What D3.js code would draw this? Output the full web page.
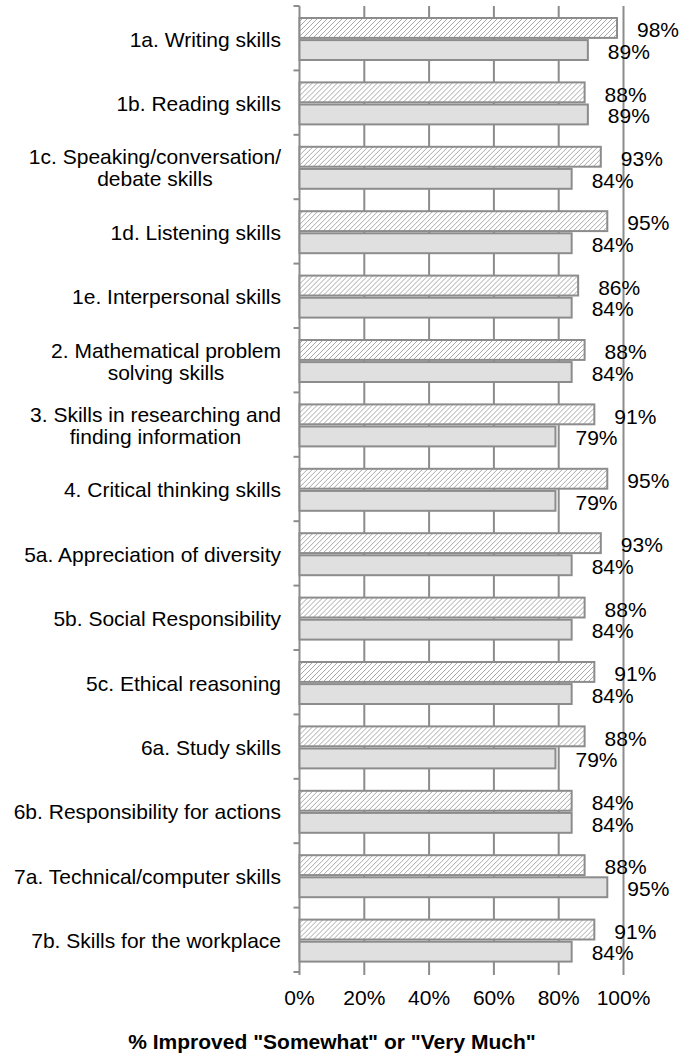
<!DOCTYPE html>
<html>
<head>
<meta charset="utf-8">
<script src="https://cdn.jsdelivr.net/npm/d3@7"></script>
<style>
  body { margin: 0; background: #fff; }
  svg text { font-family: "Liberation Sans", Arial, Helvetica, sans-serif; fill: #000; }
</style>
</head>
<body>
<svg id="chart" width="693" height="1055"></svg>
<script>
// categories (label lines) and the two series
var categories = [
  ["1a. Writing skills"],
  ["1b. Reading skills"],
  ["1c. Speaking/conversation/", "debate skills"],
  ["1d. Listening skills"],
  ["1e. Interpersonal skills"],
  ["2. Mathematical problem", "solving skills"],
  ["3. Skills in researching and", "finding information"],
  ["4. Critical thinking skills"],
  ["5a. Appreciation of diversity"],
  ["5b. Social Responsibility"],
  ["5c. Ethical reasoning"],
  ["6a. Study skills"],
  ["6b. Responsibility for actions"],
  ["7a. Technical/computer skills"],
  ["7b. Skills for the workplace"]
];
var hatchedVals = [98, 88, 93, 95, 86, 88, 91, 95, 93, 88, 91, 88, 84, 88, 91];
var solidVals   = [89, 89, 84, 84, 84, 84, 79, 79, 84, 84, 84, 79, 84, 95, 84];
var xTicks = [0, 20, 40, 60, 80, 100];
var xTitle = '% Improved "Somewhat" or "Very Much"';

var svg = d3.select("#chart");
var gray = "#8c8c8c";
var fs = 21;

var keys = categories.map(function(c, i) { return "c" + i; });
var x = d3.scaleLinear().domain([0, 100]).range([299.5, 623.5]);
var y = d3.scaleBand().domain(keys).range([6, 972]);
var inner = d3.scaleBand().domain(["h", "s"]).range([12, 54]).paddingInner(0.1);

// hatch pattern
var defs = svg.append("defs");
var pat = defs.append("pattern")
  .attr("id", "hatch")
  .attr("patternUnits", "userSpaceOnUse")
  .attr("width", 5).attr("height", 5);
pat.append("rect").attr("width", 5).attr("height", 5).attr("fill", "#fff");
pat.append("path")
  .attr("d", "M-1,1 l2,-2 M0,5 l5,-5 M4,6 l2,-2")
  .attr("stroke", "#a8a8a8").attr("stroke-width", 1);

// gridlines
svg.append("g").selectAll("line")
  .data(xTicks.filter(function(t) { return t > 0; }))
  .enter().append("line")
  .attr("x1", function(d) { return x(d); })
  .attr("x2", function(d) { return x(d); })
  .attr("y1", 6).attr("y2", 975)
  .attr("stroke", gray).attr("stroke-width", 2);

// y axis with ticks at band boundaries
svg.append("line")
  .attr("x1", x(0)).attr("x2", x(0))
  .attr("y1", 6).attr("y2", 975)
  .attr("stroke", gray).attr("stroke-width", 2);
var bounds = keys.map(function(k) { return y(k); }).concat([y.range()[1]]);
svg.append("g").selectAll("line")
  .data(bounds).enter().append("line")
  .attr("x1", x(0) - 6).attr("x2", x(0))
  .attr("y1", function(d) { return d; })
  .attr("y2", function(d) { return d; })
  .attr("stroke", gray).attr("stroke-width", 2);

// bars
var groups = svg.append("g").selectAll("g")
  .data(keys).enter().append("g")
  .attr("transform", function(k) { return "translate(0," + y(k) + ")"; });

groups.append("rect")
  .attr("x", x(0))
  .attr("y", inner("h"))
  .attr("width", function(k, i) { return x(hatchedVals[i]) - x(0); })
  .attr("height", inner.bandwidth())
  .attr("fill", "url(#hatch)")
  .attr("stroke", gray).attr("stroke-width", 2);

groups.append("rect")
  .attr("x", x(0))
  .attr("y", inner("s"))
  .attr("width", function(k, i) { return x(solidVals[i]) - x(0); })
  .attr("height", inner.bandwidth())
  .attr("fill", "#e0e0e0")
  .attr("stroke", gray).attr("stroke-width", 2);

// value labels
groups.append("text")
  .attr("x", function(k, i) { return x(hatchedVals[i]) + 20; })
  .attr("y", inner("h") + inner.bandwidth() / 2 + 2)
  .attr("dy", "0.35em")
  .attr("font-size", fs)
  .text(function(k, i) { return hatchedVals[i] + "%"; });

groups.append("text")
  .attr("x", function(k, i) { return x(solidVals[i]) + 20; })
  .attr("y", inner("s") + inner.bandwidth() / 2 + 1.5)
  .attr("dy", "0.35em")
  .attr("font-size", fs)
  .text(function(k, i) { return solidVals[i] + "%"; });

// category labels: lines centred on each other, block right-aligned
var labelRight = 281;
var lineH = 22;
categories.forEach(function(lines, i) {
  var cy = y(keys[i]) + y.bandwidth() / 2 + 1;
  var t = svg.append("text")
    .attr("font-size", fs)
    .attr("text-anchor", "middle");
  var spans = lines.map(function(s, j) {
    return t.append("tspan")
      .attr("y", cy + (j - (lines.length - 1) / 2) * lineH)
      .attr("dy", "0.35em")
      .text(s);
  });
  var w = d3.max(spans, function(sp) { return sp.node().getComputedTextLength(); });
  spans.forEach(function(sp) { sp.attr("x", labelRight - w / 2); });
});

// x tick labels
svg.append("g").selectAll("text")
  .data(xTicks).enter().append("text")
  .attr("x", function(d) { return x(d); })
  .attr("y", 998)
  .attr("dy", "0.35em")
  .attr("text-anchor", "middle")
  .attr("font-size", fs)
  .text(function(d) { return d + "%"; });

// axis title
svg.append("text")
  .attr("x", 332)
  .attr("y", 1042)
  .attr("dy", "0.35em")
  .attr("text-anchor", "middle")
  .attr("font-size", fs)
  .attr("font-weight", "bold")
  .text(xTitle);
</script>
</body>
</html>
